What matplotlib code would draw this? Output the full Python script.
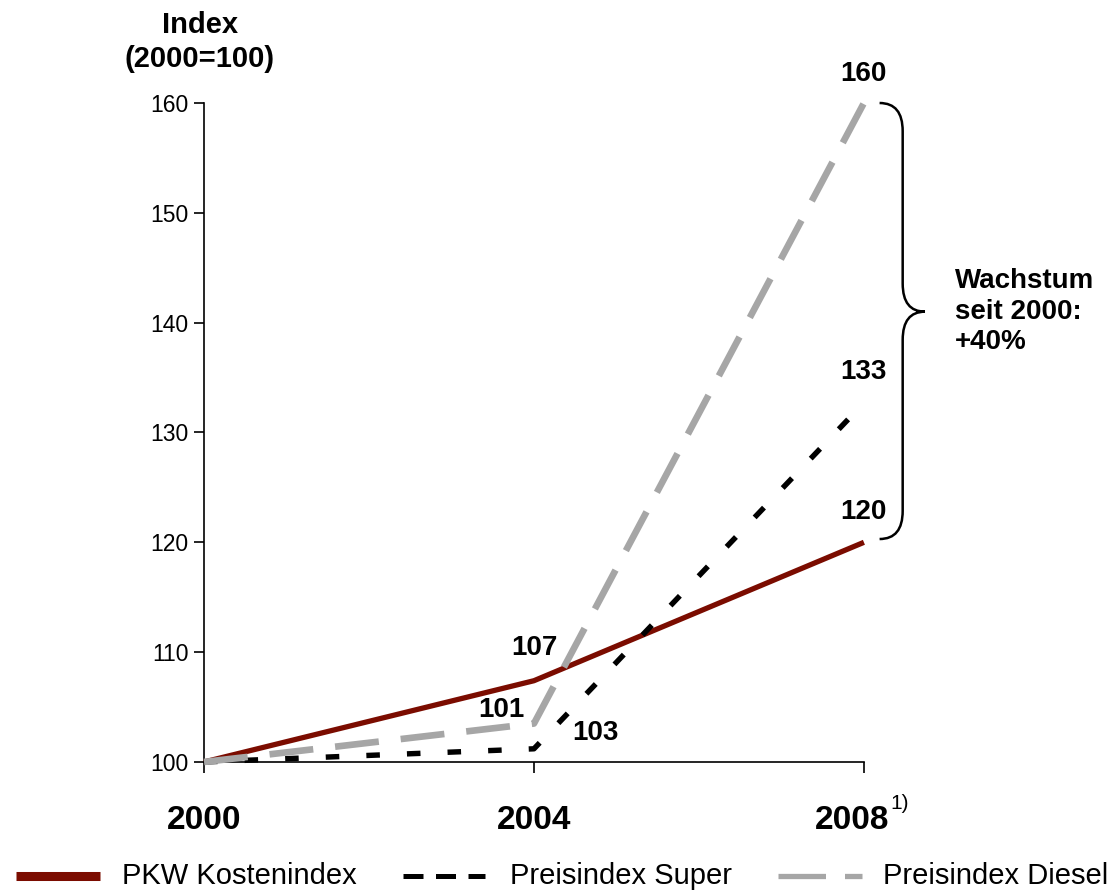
import numpy as np
import matplotlib.pyplot as plt
from matplotlib.path import Path
from matplotlib.patches import PathPatch
from matplotlib.lines import Line2D
from matplotlib.transforms import ScaledTranslation

plt.rcParams['font.family'] = ['Liberation Sans', 'DejaVu Sans']

# Data
years = [2000, 2004, 2008]
pkw_kosten = [100, 107.4, 120]
preis_super = [100, 101.2, 132.7]
preis_diesel = [100, 103.5, 160]

label_texts = ['160', '133', '120', '107', '101', '103']
label_x = [2008, 2008, 2008, 2004.0, 2003.6, 2004.74]
label_y = [162.6, 135.5, 122.8, 110.4, 104.7, 102.6]

legend_labels = ['PKW Kostenindex', 'Preisindex Super', 'Preisindex Diesel']

red = '#7b0c00'
grey = '#a6a6a6'

fig = plt.figure(figsize=(11.11, 8.91), dpi=100)
ax = fig.add_axes([0.1836, 0.1448, 0.594, 0.7396])

ax.plot(years, pkw_kosten, color=red, lw=3.8, solid_capstyle='butt', clip_on=False, zorder=3)
ax.plot(years, preis_super, color='black', lw=3.9, dashes=(2.5, 5.0), dash_capstyle='butt',
        clip_on=False, zorder=4)
ax.plot(years, preis_diesel, color=grey, lw=4.8, dashes=(6.6, 3.3), dash_capstyle='butt',
        clip_on=False, zorder=5)

for t, x, y in zip(label_texts, label_x, label_y):
    ax.text(x, y, t, ha='center', va='center', fontsize=20, fontweight='bold', zorder=6)

ax.set_xlim(2000, 2008)
ax.set_ylim(100, 160)
ax.set_yticks([100, 110, 120, 130, 140, 150, 160])
ax.set_xticks(years)
ax.set_xticklabels(['2000', '2004', '2008'], fontsize=24, fontweight='bold')
ax.tick_params(axis='y', labelsize=16.5, length=7, width=1.2, pad=4)
ax.tick_params(axis='x', length=8, width=1.2, pad=23)
ax.spines['top'].set_visible(False)
ax.spines['right'].set_visible(False)
for s in ['left', 'bottom']:
    ax.spines[s].set_linewidth(1.2)

# shift the 2008 label left to make room for the footnote marker
lab = ax.get_xticklabels()[2]
lab.set_transform(lab.get_transform() + ScaledTranslation(-0.12, 0, fig.dpi_scale_trans))

ax.annotate('1)', xy=(2008, 100), xycoords='data', xytext=(19, -23),
            textcoords='offset points', fontsize=15, ha='left', va='top',
            annotation_clip=False)

# y axis title
fig.text(0.18, 0.953, 'Index\n(2000=100)', ha='center', va='center',
         fontsize=21, fontweight='bold', linespacing=1.25)

# curly brace
x0, x1, xt = 2008.19, 2008.47, 2008.74
ytop, ybot, ymid = 160, 120.3, 141.0
r = 1.6
verts = [(x0, ytop), (x1, ytop), (x1, ytop - r * 1.6),
         (x1, ymid + r * 1.6), (x1, ymid), (xt, ymid),
         (x1, ymid), (x1, ymid - r * 1.6),
         (x1, ybot + r * 1.6), (x1, ybot), (x0, ybot)]
codes = [Path.MOVETO, Path.CURVE3, Path.CURVE3,
         Path.LINETO, Path.CURVE3, Path.CURVE3,
         Path.CURVE3, Path.CURVE3,
         Path.LINETO, Path.CURVE3, Path.CURVE3]
brace = PathPatch(Path(verts, codes), fill=False, lw=1.8, color='black', clip_on=False)
ax.add_patch(brace)

ax.text(2009.10, 141.0, 'Wachstum\nseit 2000:\n+40%', ha='left', va='center',
        fontsize=20, fontweight='bold', linespacing=1.22)

# legend, drawn by hand in figure pixels
W, H = 1111, 891
ly = 1 - 876 / H
fig.add_artist(Line2D([16 / W, 100 / W], [ly, ly], color=red, lw=6.5,
                      solid_capstyle='butt'))
fig.add_artist(Line2D([403 / W, 485 / W], [ly, ly], color='black', lw=3.6,
                      dashes=(4.0, 2.5), dash_capstyle='butt'))
fig.add_artist(Line2D([778 / W, 862 / W], [ly, ly], color=grey, lw=3.8,
                      dashes=(9.0, 3.6), dash_capstyle='butt'))
for lx, txt in zip([122, 510, 883], legend_labels):
    fig.text(lx / W, ly, txt, ha='left', va='center', fontsize=21)

fig.savefig('out.png', dpi=100)
